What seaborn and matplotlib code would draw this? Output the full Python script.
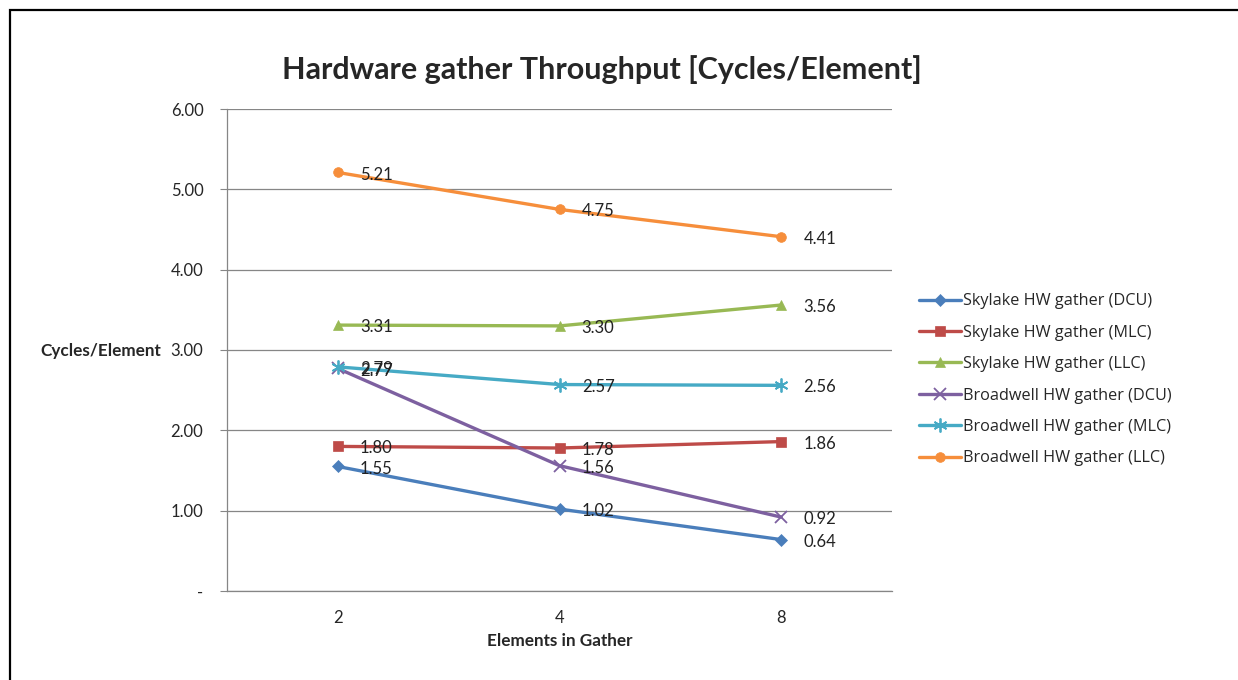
import pandas as pd
import matplotlib.pyplot as plt
import seaborn as sns
from matplotlib.patches import Rectangle

# Data
elements = ["2", "4", "8"]
series_names = [
    "Skylake HW gather (DCU)",
    "Skylake HW gather (MLC)",
    "Skylake HW gather (LLC)",
    "Broadwell HW gather (DCU)",
    "Broadwell HW gather (MLC)",
    "Broadwell HW gather (LLC)",
]
skylake_dcu = [1.55, 1.02, 0.64]
skylake_mlc = [1.80, 1.78, 1.86]
skylake_llc = [3.31, 3.30, 3.56]
broadwell_dcu = [2.77, 1.56, 0.92]
broadwell_mlc = [2.79, 2.57, 2.56]
broadwell_llc = [5.21, 4.75, 4.41]

values = [skylake_dcu, skylake_mlc, skylake_llc, broadwell_dcu, broadwell_mlc, broadwell_llc]
colors = ["#4A7EBB", "#BE4B48", "#98B954", "#7D60A0", "#46AAC5", "#F68E3B"]
markers = ["D", "s", "^", "x", (6, 2, 0), "o"]
msizes = [6, 7, 7, 9, 10, 7]

rows = []
for name, vals in zip(series_names, values):
    for i, v in enumerate(vals):
        rows.append({"series": name, "pos": i, "value": v})
df = pd.DataFrame(rows)

sns.set_style("white")
plt.rcParams["font.family"] = ["Lato", "DejaVu Sans"]

fig = plt.figure(figsize=(12.38, 6.8), dpi=100)
ax = fig.add_axes([227 / 1238, 1 - 591 / 680, (892 - 227) / 1238, (591 - 109) / 680])

sns.lineplot(data=df, x="pos", y="value", hue="series", hue_order=series_names,
             palette=colors, legend=False, ax=ax, lw=2.4)

lines = ax.get_lines()
for line, m, ms, c in zip(lines, markers, msizes, colors):
    line.set_marker(m)
    line.set_markersize(ms)
    line.set_markerfacecolor(c)
    line.set_markeredgecolor(c)
    line.set_markeredgewidth(1.3 if m in ("x",) or isinstance(m, tuple) else 0.5)

# data labels
for vals in values:
    for i, v in enumerate(vals):
        ax.annotate(f"{v:.2f}", (i, v), xytext=(16, -1.5), textcoords="offset points",
                    ha="left", va="center", fontsize=12, color="#222222")

ax.set_xlim(-0.5, 2.5)
ax.set_ylim(0, 6)
ax.set_yticks(range(7))
ax.set_yticklabels(["-"] + [f"{v:.2f}" for v in range(1, 7)], fontsize=12)
ax.set_xticks(range(3))
ax.set_xticklabels(elements, fontsize=12)
ax.set_xticks([-0.5, 0.5, 1.5, 2.5], minor=True)
ax.tick_params(axis="x", which="major", length=0, pad=14)
ax.tick_params(axis="x", which="minor", length=5, color="#868686", direction="out")
ax.tick_params(axis="y", length=5, color="#868686", direction="out", pad=12, left=True)
ax.yaxis.grid(True, color="#868686", lw=0.9)
ax.xaxis.grid(False)
for s in ["top", "right"]:
    ax.spines[s].set_visible(False)
for s in ["left", "bottom"]:
    ax.spines[s].set_color("#868686")
    ax.spines[s].set_linewidth(0.9)

ax.set_xlabel("Elements in Gather", fontsize=12.3, fontweight="bold", labelpad=5)
ax.set_ylabel("")
fig.text(101 / 1238, 1 - 351 / 680, "Cycles/Element", fontsize=12.3, fontweight="bold",
         ha="center", va="center")

fig.text(602 / 1238, 1 - 70 / 680, "Hardware gather Throughput [Cycles/Element]",
         fontsize=22, fontweight="bold", ha="center", va="center")

leg = ax.legend(lines, series_names, loc="center left", bbox_to_anchor=(1.018, 0.438),
                frameon=False, handlelength=2.6, handletextpad=0.15,
                labelspacing=0.95, prop={"family": ["Open Sans", "DejaVu Sans"], "size": 11.7})

# outer chart border
fig.patches.append(Rectangle((9.5 / 1238, -0.2), 1.2, 1.2 - 10 / 680, transform=fig.transFigure,
                             fill=False, ec="black", lw=1.6, clip_on=False))

fig.savefig("out.png", dpi=100)
